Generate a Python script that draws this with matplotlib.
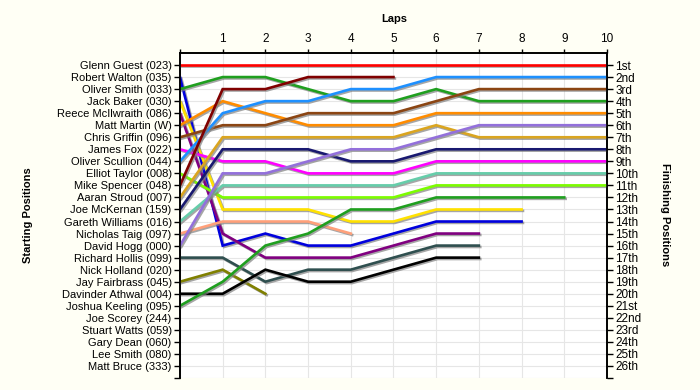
import matplotlib
matplotlib.use('Agg')
import matplotlib.pyplot as plt
import matplotlib.patheffects as pe

plt.rcParams['font.family'] = ['Liberation Sans', 'DejaVu Sans']

drivers = ['Glenn Guest (023)', 'Robert Walton (035)', 'Oliver Smith (033)', 'Jack Baker (030)',
           'Reece McIlwraith (086)', 'Matt Martin (W)', 'Chris Griffin (096)', 'James Fox (022)',
           'Oliver Scullion (044)', 'Elliot Taylor (008)', 'Mike Spencer (048)', 'Aaran Stroud (007)',
           'Joe McKernan (159)', 'Gareth Williams (016)', 'Nicholas Taig (097)', 'David Hogg (000)',
           'Richard Hollis (099)', 'Nick Holland (020)', 'Jay Fairbrass (045)', 'Davinder Athwal (004)',
           'Joshua Keeling (095)', 'Joe Scorey (244)', 'Stuart Watts (059)', 'Gary Dean (060)',
           'Lee Smith (080)', 'Matt Bruce (333)']

finish_labels = ['1st', '2nd', '3rd', '4th', '5th', '6th', '7th', '8th', '9th', '10th', '11th', '12th',
                 '13th', '14th', '15th', '16th', '17th', '18th', '19th', '20th', '21st', '22nd', '23rd',
                 '24th', '25th', '26th']

laps = list(range(0, 11))

# position after each lap, index 0 = grid slot; drivers with no line are left out
positions = {
    'Glenn Guest (023)':      [1, 1, 1, 1, 1, 1, 1, 1, 1, 1, 1],
    'Robert Walton (035)':    [2, 16, 15, 16, 16, 15, 14, 14, 14],
    'Oliver Smith (033)':     [3, 2, 2, 3, 4, 4, 3, 4, 4, 4, 4],
    'Jack Baker (030)':       [4, 13, 13, 13, 14, 14, 13, 13, 13],
    'Reece McIlwraith (086)': [5, 15, 17, 17, 17, 16, 15, 15],
    'Matt Martin (W)':        [6, 4, 5, 6, 6, 6, 5, 5, 5, 5, 5],
    'Chris Griffin (096)':    [7, 6, 6, 5, 5, 5, 4, 3, 3, 3, 3],
    'James Fox (022)':        [8, 9, 9, 10, 10, 10, 9, 9, 9, 9, 9],
    'Oliver Scullion (044)':  [9, 5, 4, 4, 3, 3, 2, 2, 2, 2, 2],
    'Elliot Taylor (008)':    [10, 12, 12, 12, 12, 12, 11, 11, 11, 11, 11],
    'Mike Spencer (048)':     [11, 3, 3, 2, 2, 2],
    'Aaran Stroud (007)':     [12, 7, 7, 7, 7, 7, 6, 7, 7, 7, 7],
    'Joe McKernan (159)':     [13, 8, 8, 8, 9, 9, 8, 8, 8, 8, 8],
    'Gareth Williams (016)':  [14, 11, 11, 11, 11, 11, 10, 10, 10, 10, 10],
    'Nicholas Taig (097)':    [15, 14, 14, 14, 15],
    'David Hogg (000)':       [16, 10, 10, 9, 8, 8, 7, 6, 6, 6, 6],
    'Richard Hollis (099)':   [17, 17, 19, 18, 18, 17, 16, 16],
    'Jay Fairbrass (045)':    [19, 18, 20],
    'Davinder Athwal (004)':  [20, 20, 18, 19, 19, 18, 17, 17],
    'Joshua Keeling (095)':   [21, 19, 16, 15, 13, 13, 12, 12, 12, 12],
}

colors = {
    'Glenn Guest (023)': '#ff0000',
    'Robert Walton (035)': '#0000dd',
    'Oliver Smith (033)': '#1f9f1f',
    'Jack Baker (030)': '#ffe100',
    'Reece McIlwraith (086)': '#800080',
    'Matt Martin (W)': '#ff8c00',
    'Chris Griffin (096)': '#8b4513',
    'James Fox (022)': '#ff00ff',
    'Oliver Scullion (044)': '#1e90ff',
    'Elliot Taylor (008)': '#7cfc00',
    'Mike Spencer (048)': '#800000',
    'Aaran Stroud (007)': '#daa520',
    'Joe McKernan (159)': '#191970',
    'Gareth Williams (016)': '#66cdaa',
    'Nicholas Taig (097)': '#ffa07a',
    'David Hogg (000)': '#9370db',
    'Richard Hollis (099)': '#2f4f4f',
    'Jay Fairbrass (045)': '#808000',
    'Davinder Athwal (004)': '#000000',
    'Joshua Keeling (095)': '#1f9f1f',
}

bg = '#fffff5'
fig = plt.figure(figsize=(7, 3.9), dpi=100, facecolor=bg)
ax = fig.add_axes([0.2571, 0.0308, 0.61, 0.8333])
ax.set_facecolor('white')

shadow = [pe.SimpleLineShadow(offset=(1, -1), shadow_color='#808080', alpha=0.7), pe.Normal()]
for name in drivers:
    if name not in positions:
        continue
    pos = positions[name]
    ax.plot(laps[:len(pos)], pos, color=colors[name], lw=1.9, solid_joinstyle='miter',
            path_effects=shadow, zorder=3)

ax.set_xlim(0, 10)
ax.set_ylim(27, 0)

ax.xaxis.tick_top()
ax.set_xticks(laps)
ax.set_xticklabels([''] + [str(i) for i in laps[1:]], fontsize=8.5)

ax.set_yticks(range(1, 28))
ax.set_yticklabels(drivers + [''], fontsize=8)

ax2 = ax.twinx()
ax2.set_ylim(27, 0)
ax2.set_yticks(range(1, 28))
ax2.set_yticklabels(finish_labels + [''], fontsize=8.5)

for a in (ax, ax2):
    a.spines['bottom'].set_visible(False)
    a.tick_params(axis='y', length=4.5, width=1, pad=1.5, color='black')
    for s in ('left', 'right', 'top'):
        a.spines[s].set_linewidth(1.2)
ax.tick_params(axis='x', length=3, width=1, pad=2.5, color='black')

ax.grid(True, color='#e6e6e6', lw=0.8, zorder=0)
ax.set_axisbelow(True)

fig.text(394 / 700, 1 - 19 / 390, 'Laps', fontsize=8, fontweight='bold', ha='center', va='center')
fig.text(28 / 700, 1 - 215 / 390, 'Starting Positions', fontsize=8, fontweight='bold',
         rotation=90, ha='center', va='center')
fig.text(665 / 700, 1 - 215 / 390, 'Finishing Positions', fontsize=8, fontweight='bold',
         rotation=-90, ha='center', va='center')

fig.savefig('out.png', dpi=100, facecolor=bg)
